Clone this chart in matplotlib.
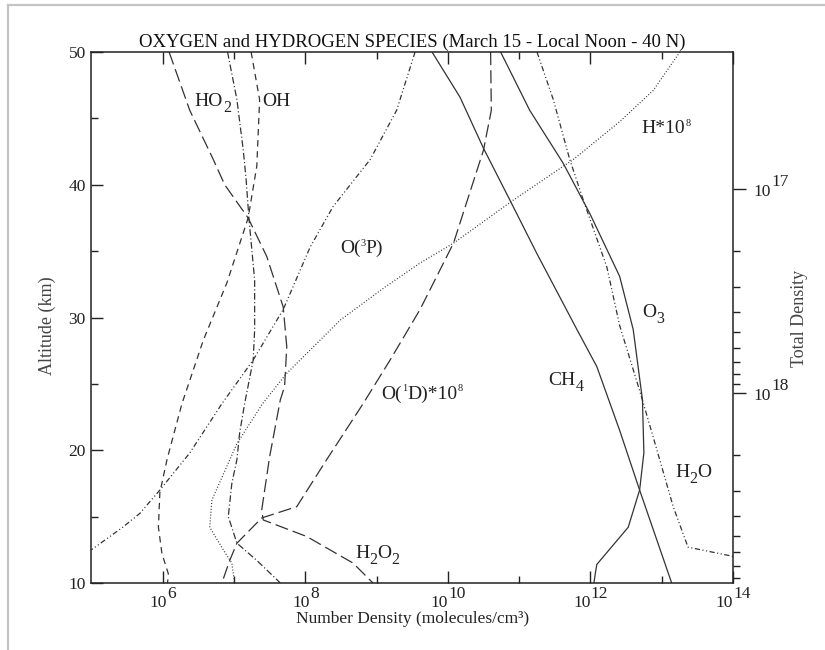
import numpy as np
import matplotlib
matplotlib.use('Agg')
import matplotlib.pyplot as plt
from matplotlib.ticker import FixedLocator, NullFormatter
from matplotlib.lines import Line2D

plt.rcParams['font.family'] = ['Liberation Serif', 'DejaVu Serif']
plt.rcParams['lines.scale_dashes'] = False

# altitude (km) / number density (molecules/cm3)
h2o2_alt = [50, 45.6, 41.9, 40.0, 37.5, 34.6, 30.8, 27.8, 24.8, 23.8, 19.5, 15.5, 14.75, 13.5, 11.5, 10]
h2o2_den = [1.23e6, 2.4e6, 5.13e6, 7.41e6, 1.58e7, 2.88e7, 4.9e7, 5.5e7, 5.13e7, 4.47e7,
            3.16e7, 2.45e7, 2.57e7, 1.05e8, 4.68e8, 8.91e8]

ho2_alt = [50, 46.4, 42.6, 40.4, 37.5, 32.8, 29.1, 26.8, 23.5, 21.3, 19.3, 17.5, 15.0, 13.0, 11.7, 10]
ho2_den = [8.13e6, 1.1e7, 1.35e7, 1.48e7, 1.62e7, 1.95e7, 1.95e7, 1.86e7, 1.41e7, 1.2e7,
           1.1e7, 9.33e6, 8.32e6, 1.1e7, 2.09e7, 4.47e7]

oh_alt = [50, 46.4, 41.4, 37.5, 32.6, 28.3, 23.5, 19.3, 16.8, 14.2, 12.2, 10.7, 10]
oh_den = [1.74e7, 2.29e7, 2.09e7, 1.58e7, 7.94e6, 3.72e6, 1.86e6, 1.15e6, 9.12e5, 8.71e5,
          9.77e5, 1.2e6, 1.17e6]

o3p_alt = [50, 45.6, 41.9, 38.35, 35.3, 30.6, 26.8, 23.5, 19.8, 17.0, 15.25, 14.2, 12.5]
o3p_den = [3.47e9, 1.91e9, 8.13e8, 2.45e8, 1.17e8, 4.9e7, 1.86e7, 6.76e6, 2.4e6, 9.12e5,
           4.79e5, 2.75e5, 1.0e5]

h_alt = [50, 47.1, 44.75, 41.9, 38.85, 35.6, 34.1, 32.3, 29.8, 25.8, 23.5, 20.5, 16.25, 14.2, 12.5, 11.5, 10]
h_den = [1.8e13, 7.59e12, 2.57e12, 5.75e11, 8.32e10, 1.2e10, 4.07e9, 1.32e9, 3.09e8, 5.5e7,
         2.51e7, 1.1e7, 4.9e6, 4.57e6, 7.08e6, 9.33e6, 1.02e7]

o1d_alt = [50, 45.6, 42.6, 35.6, 30.6, 26.8, 23.5, 19.3, 15.75, 14.9, 13.0, 11.7, 10]
o1d_den = [3.98e10, 4.07e10, 3.16e10, 1.2e10, 4.07e9, 1.55e9, 6.46e8, 2.0e8, 7.59e7, 2.45e7,
           1.1e7, 8.71e6, 6.76e6]

ch4_alt = [50, 46.6, 42.75, 38.85, 34.8, 29.1, 26.3, 21.5, 17.0, 10]
ch4_den = [6.0e9, 1.48e10, 3.16e10, 7.41e10, 1.78e11, 6.46e11, 1.23e12, 2.57e12, 4.9e12, 1.38e13]

o3_alt = [50, 45.6, 41.6, 37.85, 33.1, 29.1, 23.8, 19.8, 17.0, 14.2, 11.4, 10.7, 10]
o3_den = [5.5e10, 1.41e11, 4.17e11, 9.77e11, 2.57e12, 3.98e12, 5.37e12, 5.62e12, 4.9e12,
          3.39e12, 1.23e12, 1.17e12, 1.12e12]

h2o_alt = [50, 46.4, 41.9, 38.85, 33.8, 29.4, 24.5, 21.0, 15.75, 12.7, 12.0]
h2o_den = [1.78e11, 3.02e11, 5.13e11, 7.94e11, 1.7e12, 2.57e12, 4.9e12, 7.59e12, 1.45e13,
           2.34e13, 1.02e14]

x_major_exp = [6, 8, 10, 12, 14]
x_minor_exp = [7, 9, 11, 13]
alt_major = [10, 20, 30, 40, 50]
alt_minor = [15, 25, 35, 45]
dens_major_exp = [17, 18]

# species labels: pieces are (text, '' | 'sub' | 'sup')
species_labels = [
    ([('HO', ''), ('2', 'sub')], 10 ** 6.45, 45.9),
    ([('OH', '')], 10 ** 7.39, 45.9),
    ([('O(', ''), ('3', 'sup'), ('P)', '')], 10 ** 8.49, 34.85),
    ([('O(', ''), ('1', 'sup'), ('D)*10', ''), ('8', 'sup')], 10 ** 9.07, 23.9),
    ([('H', ''), ('2', 'sub'), ('O', ''), ('2', 'sub')], 10 ** 8.70, 11.85),
    ([('CH', ''), ('4', 'sub')], 10 ** 11.41, 24.9),
    ([('O', ''), ('3', 'sub')], 10 ** 12.72, 30.05),
    ([('H', ''), ('2', 'sub'), ('O', '')], 10 ** 13.19, 18.0),
    ([('H*10', ''), ('8', 'sup')], 10 ** 12.72, 43.9),
]

line_col = '#333333'
text_col = '#222222'
long_dash = (0, (9.5, 3.6))
short_dash = (0, (4.6, 3.4))
dash_dot = (0, (4.8, 1.8, 0.8, 1.8))
dash_dot_dot = (0, (3.8, 1.8, 0.8, 1.8, 0.8, 1.8))
fine_dot = (0, (0.7, 1.4))

fig = plt.figure(figsize=(8.25, 6.5), dpi=100)
ax = fig.add_axes([91.4 / 825, 67 / 650, 641.6 / 825, 531 / 650])

curves = [
    (h2o2_den, h2o2_alt, long_dash),
    (ho2_den, ho2_alt, dash_dot),
    (oh_den, oh_alt, short_dash),
    (o3p_den, o3p_alt, dash_dot_dot),
    (h_den, h_alt, fine_dot),
    (o1d_den, o1d_alt, long_dash),
    (ch4_den, ch4_alt, '-'),
    (o3_den, o3_alt, '-'),
    (h2o_den, h2o_alt, dash_dot_dot),
]
for den, alt, ls in curves:
    ax.plot(den, alt, color=line_col, lw=0.9, linestyle=ls)

ax.set_xscale('log')
ax.set_xlim(1e5, 1e14)
ax.set_ylim(10, 50)
ax.xaxis.set_major_locator(FixedLocator([10.0 ** e for e in x_major_exp]))
ax.xaxis.set_minor_locator(FixedLocator([10.0 ** e for e in x_minor_exp]))
ax.xaxis.set_major_formatter(NullFormatter())
ax.xaxis.set_minor_formatter(NullFormatter())
ax.set_yticks(alt_major)
ax.set_yticks(alt_minor, minor=True)
ax.tick_params(which='both', direction='in', top=True, right=True, width=1.0, colors=text_col)
ax.tick_params(which='major', length=8.6)
ax.tick_params(which='minor', length=5)
ax.tick_params(axis='y', labelsize=12.5, pad=4, labelcolor=text_col)
for sp in ax.spines.values():
    sp.set_linewidth(1.1)
    sp.set_color(text_col)

# x tick labels: "10" with a full size exponent
for e in x_major_exp:
    n = len(str(e))
    left = -(17.3 + 8.7 * n) / 2
    ax.annotate('10', xy=(10.0 ** e, 0), xycoords=('data', 'axes fraction'),
                xytext=(left, -23.7), textcoords='offset pixels',
                ha='left', va='baseline', fontsize=12.5, color=text_col)
    ax.annotate(str(e), xy=(10.0 ** e, 0), xycoords=('data', 'axes fraction'),
                xytext=(left + 17.8, -15.3), textcoords='offset pixels',
                ha='left', va='baseline', fontsize=12.5, color=text_col)

# right axis: total density
ax2 = ax.twinx()
ax2.set_yscale('log')
ax2.set_ylim(8.5e18, 2.12e16)
ax2.yaxis.set_major_locator(FixedLocator([10.0 ** e for e in dens_major_exp]))
ax2.yaxis.set_minor_locator(FixedLocator([k * 1e17 for k in range(2, 10)] + [k * 1e18 for k in range(2, 9)]))
ax2.yaxis.set_major_formatter(NullFormatter())
ax2.yaxis.set_minor_formatter(NullFormatter())
ax2.tick_params(which='both', direction='out', left=False, right=True, width=1.0, colors=text_col)
ax2.tick_params(which='major', length=9.4)
ax2.tick_params(which='minor', length=5)
for sp in ax2.spines.values():
    sp.set_visible(False)
for e in dens_major_exp:
    ax2.annotate('10', xy=(1, 10.0 ** e), xycoords=('axes fraction', 'data'),
                 xytext=(20, -7), textcoords='offset pixels',
                 ha='left', va='baseline', fontsize=12.5, color=text_col)
    ax2.annotate(str(e), xy=(1, 10.0 ** e), xycoords=('axes fraction', 'data'),
                 xytext=(38.5, 3), textcoords='offset pixels',
                 ha='left', va='baseline', fontsize=12.5, color=text_col)

# species labels, pieces laid out one after another
renderer = fig.canvas.get_renderer()
for pieces, x, y in species_labels:
    x0 = ax.transData.transform((x, y))[0]
    dx = 0.0
    for s, kind in pieces:
        if kind == 'sub':
            fs, dy = 11.5, -6
        elif kind == 'sup':
            fs, dy = 7.5, 7
        else:
            fs, dy = 14, 0
        t = ax.annotate(s, xy=(x, y), xycoords='data', xytext=(dx, dy),
                        textcoords='offset pixels', ha='left', va='baseline',
                        fontsize=fs, color=text_col)
        dx = t.get_window_extent(renderer).x1 - x0

ax.set_title('OXYGEN and HYDROGEN SPECIES (March 15 - Local Noon - 40 N)',
             fontsize=13.5, color='#111111', pad=3.8)
ax.set_xlabel('Number Density (molecules/cm³)', fontsize=12.5, color=text_col)
ax.xaxis.set_label_coords(0.5, -0.052)
ax.text(-0.069, 0.485, 'Altitude (km)', rotation=90, ha='center', va='center',
        fontsize=13, color='#444444', transform=ax.transAxes)
ax.text(1.1044, 0.499, 'Total Density', rotation=90, ha='center', va='center',
        fontsize=13, color='#444444', transform=ax.transAxes)

# light frame of the page
fig.add_artist(Line2D([8 / 825, 8 / 825], [0, 1 - 4.7 / 650], transform=fig.transFigure,
                      color='#c4c4c4', lw=1.6))
fig.add_artist(Line2D([8 / 825, 1], [1 - 4.7 / 650, 1 - 4.7 / 650], transform=fig.transFigure,
                      color='#c4c4c4', lw=1.6))

fig.savefig('out.png', dpi=100)
